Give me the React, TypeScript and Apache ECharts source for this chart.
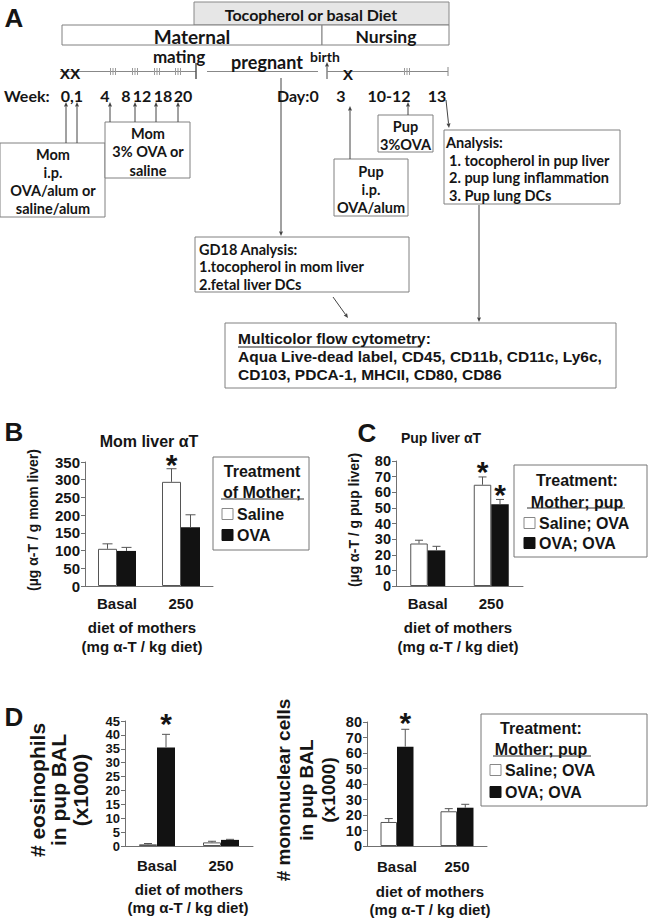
import React, { useEffect, useRef } from "react";
import * as echarts from "echarts";

// ---------- data ----------
const categories = ["Basal", "250"];

// Panel B: Mom liver alpha-T (ug / g)
const momSaline = [105, 294];
const momSalineErr = [14, 37];
const momSalineStar = [0, 1];
const momOva = [99, 166];
const momOvaErr = [10, 35];
const momOvaStar = [0, 0];

// Panel C: Pup liver alpha-T (ug / g)
const pupSaline = [27.2, 64.8];
const pupSalineErr = [2.1, 5];
const pupSalineStar = [0, 1];
const pupOva = [22.8, 52.4];
const pupOvaErr = [2.6, 3];
const pupOvaStar = [0, 1];

// Panel D left: eosinophils (x1000)
const eosSaline = [0.6, 1.3];
const eosSalineErr = [0.3, 0.4];
const eosSalineStar = [0, 0];
const eosOva = [35.5, 2.2];
const eosOvaErr = [4.7, 0.2];
const eosOvaStar = [1, 0];

// Panel D right: mononuclear cells (x1000)
const monoSaline = [15.5, 22.4];
const monoSalineErr = [2.2, 1.7];
const monoSalineStar = [0, 0];
const monoOva = [64.1, 24.7];
const monoOvaErr = [11.2, 2.2];
const monoOvaStar = [1, 0];

const ARIAL = "Liberation Sans, Arial, sans-serif";
const CAL = "Lato, Carlito, sans-serif";
const INK = "#151515";
const LINE = "#707070";

type PanelCfg = {
  grid: { left: number; top: number; width: number; height: number };
  max: number;
  interval: number;
  barWidth: number;
  cap: number;
  starGap: number;
  labelSize: number;
  xMargin: number;
  saline: number[];
  salineErr: number[];
  salineStar: number[];
  ova: number[];
  ovaErr: number[];
  ovaStar: number[];
};

const panels: PanelCfg[] = [
  {
    grid: { left: 85, top: 462, width: 128, height: 124 },
    max: 350, interval: 50, barWidth: 19, cap: 10, starGap: 4, labelSize: 15, xMargin: 10,
    saline: momSaline, salineErr: momSalineErr, salineStar: momSalineStar,
    ova: momOva, ovaErr: momOvaErr, ovaStar: momOvaStar,
  },
  {
    grid: { left: 396, top: 461, width: 127, height: 125 },
    max: 80, interval: 10, barWidth: 17.5, cap: 8, starGap: 5, labelSize: 14.5, xMargin: 10,
    saline: pupSaline, salineErr: pupSalineErr, salineStar: pupSalineStar,
    ova: pupOva, ovaErr: pupOvaErr, ovaStar: pupOvaStar,
  },
  {
    grid: { left: 125, top: 721, width: 128, height: 125 },
    max: 45, interval: 5, barWidth: 18, cap: 8, starGap: 11, labelSize: 13, xMargin: 12,
    saline: eosSaline, salineErr: eosSalineErr, salineStar: eosSalineStar,
    ova: eosOva, ovaErr: eosOvaErr, ovaStar: eosOvaStar,
  },
  {
    grid: { left: 367, top: 722, width: 120, height: 124 },
    max: 80, interval: 10, barWidth: 16.5, cap: 8, starGap: 7, labelSize: 14.5, xMargin: 13,
    saline: monoSaline, salineErr: monoSalineErr, salineStar: monoSalineStar,
    ova: monoOva, ovaErr: monoOvaErr, ovaStar: monoOvaStar,
  },
];

// ---------- graphic helpers (panel A diagram, legends, titles) ----------
function txt(x: number, y: number, text: string, o: any = {}) {
  return {
    type: "text",
    x,
    y,
    rotation: o.rotation || 0,
    z: 100,
    style: {
      text,
      fontSize: o.size || 14,
      fontWeight: o.weight || "bold",
      fontFamily: o.family || ARIAL,
      fill: o.color || INK,
      align: o.align || "center",
      verticalAlign: "middle",
    },
  };
}
function box(x: number, y: number, w: number, h: number, fill = "#fff", stroke = "#808080") {
  return { type: "rect", z: 50, shape: { x, y, width: w, height: h }, style: { fill, stroke, lineWidth: 1 } };
}
function ln(x1: number, y1: number, x2: number, y2: number, color = LINE, w = 1) {
  return { type: "line", z: 60, shape: { x1, y1, x2, y2 }, style: { stroke: color, lineWidth: w } };
}
function arrow(x1: number, y1: number, x2: number, y2: number, color = "#444") {
  const dx = x2 - x1, dy = y2 - y1;
  const L = Math.sqrt(dx * dx + dy * dy);
  const ux = dx / L, uy = dy / L;
  const hl = 4.5, hw = 2;
  const bx = x2 - ux * hl, by = y2 - uy * hl;
  return [
    ln(x1, y1, bx, by, color, 1),
    {
      type: "polygon",
      z: 60,
      shape: { points: [[x2, y2], [bx - uy * hw, by + ux * hw], [bx + uy * hw, by - ux * hw]] },
      style: { fill: color },
    },
  ];
}
function ticks3(x: number, y: number) {
  return [ln(x - 2.5, y - 3.5, x - 2.5, y + 3.5, "#999"), ln(x, y - 3.5, x, y + 3.5, "#999"), ln(x + 2.5, y - 3.5, x + 2.5, y + 3.5, "#999")];
}
function legend(x: number, y: number, w: number, h: number, l1: string, l2: string, ul: [number, number, number], items: { text: string; y: number }[], sqX: number, cx: number, l1y: number, l2y: number, size: number) {
  const els: any[] = [box(x, y, w, h, "#fff", "#777")];
  els.push(txt(cx, l1y, l1, { size }));
  els.push(txt(cx, l2y, l2, { size }));
  els.push(ln(ul[0], ul[2], ul[1], ul[2], "#333", 1.2));
  items.forEach((it, i) => {
    els.push({
      type: "rect",
      z: 101,
      shape: { x: sqX, y: it.y - 5.5, width: 11, height: 11 },
      style: { fill: i === 0 ? "#fff" : "#111", stroke: i === 0 ? "#888" : "#111", lineWidth: 1 },
    });
    els.push(txt(sqX + 15, it.y, it.text, { size, align: "left" }));
  });
  return els;
}

function buildGraphics() {
  const g: any[] = [];
  // ----- Panel A -----
  g.push(txt(14, 18, "A", { size: 26 }));
  g.push(box(194, 2, 255, 23, "#e6e6e6", "#888"));
  g.push(txt(311, 14, "Tocopherol or basal Diet", { size: 16, family: CAL }));
  g.push(box(62, 25, 260, 20));
  g.push(txt(192, 36, "Maternal", { size: 19, family: CAL }));
  g.push(box(322, 25, 127, 20));
  g.push(txt(386, 36, "Nursing", { size: 17.5, family: CAL }));
  g.push(txt(179, 56, "mating", { size: 17, family: CAL }));
  g.push(txt(267, 62, "pregnant", { size: 18, family: CAL }));
  g.push(txt(325, 56, "birth", { size: 14, family: CAL }));
  // timeline
  g.push(ln(60, 71.5, 196, 71.5, "#888"));
  g.push(ln(196, 63, 196, 79, "#555", 1.5));
  g.push(ln(207, 71.5, 318, 71.5, "#888"));
  g.push(...arrow(327, 79, 327, 62, "#444"));
  g.push(ln(327, 71.5, 448, 71.5, "#888"));
  g.push(ln(448, 67, 448, 76, "#888"));
  g.push(txt(70, 73, "XX", { size: 15.5 }));
  g.push(txt(348, 74, "X", { size: 15.5 }));
  [113, 135, 157, 178, 407].forEach((x) => g.push(...ticks3(x, 71.5)));
  // week / day labels
  const W = { size: 16, family: CAL };
  g.push(txt(4, 95, "Week:", { ...W, align: "left" }));
  g.push(txt(72, 95, "0,1", W));
  g.push(txt(105, 95, "4", W));
  g.push(txt(126, 95, "8", W));
  g.push(txt(142, 95, "12", W));
  g.push(txt(163, 95, "18", W));
  g.push(txt(183, 95, "20", W));
  g.push(txt(277, 95, "Day:0", { ...W, align: "left" }));
  g.push(txt(341, 95, "3", W));
  g.push(txt(389, 95, "10-12", W));
  g.push(txt(437, 95, "13", W));
  // arrows up to week labels
  g.push(...arrow(66, 143, 66, 102));
  g.push(...arrow(77, 143, 77, 102));
  [110, 135, 156, 178].forEach((x) => g.push(...arrow(x, 122, x, 102)));
  g.push(...arrow(350, 159, 350, 106));
  g.push(...arrow(408, 115, 408, 102));
  g.push(...arrow(446, 100, 449, 128));
  g.push(...arrow(281, 78, 281, 236));
  g.push(...arrow(333, 297, 348, 318));
  g.push(...arrow(479, 205, 479, 322));
  // boxes
  const B = { size: 14.5, family: CAL };
  g.push(box(0, 143, 105, 74));
  ["Mom", "i.p.", "OVA/alum or", "saline/alum"].forEach((t, i) => g.push(txt(53, 154 + i * 18, t, B)));
  g.push(box(105, 122, 85, 56));
  ["Mom", "3% OVA or", "saline"].forEach((t, i) => g.push(txt(148, 133 + i * 18.5, t, B)));
  g.push(box(334, 159, 74, 57));
  ["Pup", "i.p.", "OVA/alum"].forEach((t, i) => g.push(txt(371, 171 + i * 18, t, B)));
  g.push(box(378, 115, 55, 37));
  ["Pup", "3%OVA"].forEach((t, i) => g.push(txt(405.5, 126 + i * 18.5, t, B)));
  g.push(box(444, 130, 176, 74));
  g.push(txt(446, 142, "Analysis:", { ...B, align: "left" }));
  ["1. tocopherol in pup liver", "2. pup lung inflammation", "3. Pup lung DCs"].forEach((t, i) => g.push(txt(449, 160 + i * 17.5, t, { ...B, align: "left" })));
  g.push(box(195, 237, 214, 55));
  ["GD18 Analysis:", "1.tocopherol in mom liver", "2.fetal liver DCs"].forEach((t, i) => g.push(txt(199, 249 + i * 17.5, t, { ...B, align: "left" })));
  g.push(box(225, 323, 391, 65));
  g.push(txt(238, 338, "Multicolor flow cytometry:", { size: 15.5, align: "left" }));
  g.push(ln(238, 347, 421, 347, "#222", 1));
  g.push(txt(238, 356, "Aqua Live-dead label, CD45, CD11b, CD11c, Ly6c,", { size: 15.5, align: "left" }));
  g.push(txt(238, 374, "CD103, PDCA-1, MHCII, CD80, CD86", { size: 15.5, align: "left" }));

  // ----- Panel B -----
  g.push(txt(14, 432, "B", { size: 26 }));
  g.push(txt(149, 441, "Mom liver \u03b1T", { size: 16 }));
  g.push(txt(33, 520, "(\u00b5g \u03b1-T / g mom liver)", { size: 14, rotation: Math.PI / 2 }));
  g.push(txt(142, 627, "diet of mothers", { size: 15 }));
  g.push(txt(142, 646, "(mg \u03b1-T / kg diet)", { size: 15 }));
  g.push(...legend(213, 457, 96, 93, "Treatment", "of Mother;", [221, 304, 499], [{ text: "Saline", y: 514 }, { text: "OVA", y: 535 }], 222, 262, 471, 492, 16));

  // ----- Panel C -----
  g.push(txt(367, 433, "C", { size: 26 }));
  g.push(txt(441, 438, "Pup liver \u03b1T", { size: 14 }));
  g.push(txt(354, 520, "(\u00b5g \u03b1-T / g pup liver)", { size: 14, rotation: Math.PI / 2 }));
  g.push(txt(458, 627, "diet of mothers", { size: 15 }));
  g.push(txt(458, 646, "(mg \u03b1-T / kg diet)", { size: 15 }));
  g.push(...legend(514, 465, 133, 92, "Treatment:", "Mother; pup", [527, 625, 508], [{ text: "Saline; OVA", y: 523 }, { text: "OVA; OVA", y: 543 }], 524, 577, 480, 502, 16));

  // ----- Panel D -----
  g.push(txt(14, 717, "D", { size: 26 }));
  g.push(txt(37, 790, "# eosinophils", { size: 21, rotation: Math.PI / 2 }));
  g.push(txt(58, 790, "in pup BAL", { size: 21, rotation: Math.PI / 2 }));
  g.push(txt(80, 790, "(x1000)", { size: 21, rotation: Math.PI / 2 }));
  g.push(txt(189, 889, "diet of mothers", { size: 15 }));
  g.push(txt(188, 907, "(mg \u03b1-T / kg diet)", { size: 15 }));

  g.push(txt(283, 790, "# mononuclear cells", { size: 19, rotation: Math.PI / 2 }));
  g.push(txt(306, 790, "in pup BAL", { size: 19, rotation: Math.PI / 2 }));
  g.push(txt(328, 790, "(x1000)", { size: 19, rotation: Math.PI / 2 }));
  g.push(txt(430, 891, "diet of mothers", { size: 15 }));
  g.push(txt(430, 909, "(mg \u03b1-T / kg diet)", { size: 15 }));
  g.push(...legend(481, 714, 166, 92, "Treatment:", "Mother; pup", [493, 591, 756], [{ text: "Saline; OVA", y: 770 }, { text: "OVA; OVA", y: 792 }], 490, 541, 728, 749, 16));
  return g;
}

function buildOption() {
  const grid: any[] = [];
  const xAxis: any[] = [];
  const yAxis: any[] = [];
  const series: any[] = [];
  panels.forEach((p, i) => {
    grid.push({ ...p.grid, containLabel: false });
    xAxis.push({
      type: "category",
      gridIndex: i,
      data: categories,
      axisLine: { show: true, lineStyle: { color: LINE, width: 1 } },
      axisTick: { show: false },
      axisLabel: { fontSize: 15, fontWeight: "bold", fontFamily: ARIAL, color: INK, margin: p.xMargin },
      splitLine: { show: false },
    });
    yAxis.push({
      type: "value",
      gridIndex: i,
      min: 0,
      max: p.max,
      interval: p.interval,
      axisLine: { show: true, lineStyle: { color: LINE, width: 1 } },
      axisTick: { show: true, length: 4, lineStyle: { color: LINE } },
      axisLabel: {
        fontSize: p.labelSize,
        lineHeight: p.labelSize,
        fontWeight: "bold",
        fontFamily: ARIAL,
        color: INK,
        margin: 5,
        showMinLabel: true,
        showMaxLabel: true,
        hideOverlap: false,
      },
      splitLine: { show: false },
    });
    series.push({
      type: "bar",
      xAxisIndex: i,
      yAxisIndex: i,
      data: p.saline,
      barWidth: p.barWidth,
      barGap: "0%",
      itemStyle: { color: "#ffffff", borderColor: "#555", borderWidth: 1 },
      z: 2,
    });
    series.push({
      type: "bar",
      xAxisIndex: i,
      yAxisIndex: i,
      data: p.ova,
      barWidth: p.barWidth,
      barGap: "0%",
      itemStyle: { color: "#121212", borderColor: "#121212", borderWidth: 0 },
      z: 2,
    });
    const errData = [
      ...p.saline.map((v, k) => [k, v, p.salineErr[k], 0, p.salineStar[k]]),
      ...p.ova.map((v, k) => [k, v, p.ovaErr[k], 1, p.ovaStar[k]]),
    ];
    const bw = p.barWidth, cap = p.cap, gap = p.starGap;
    series.push({
      type: "custom",
      xAxisIndex: i,
      yAxisIndex: i,
      data: errData,
      encode: { x: 0, y: 1 },
      clip: false,
      z: 5,
      silent: true,
      renderItem: (params: any, api: any) => {
        const cat = api.value(0), val = api.value(1), err = api.value(2), slot = api.value(3), star = api.value(4);
        const base = api.coord([cat, val]);
        const top = api.coord([cat, val + err]);
        const x = base[0] + (slot === 0 ? -1 : 1) * (bw / 2);
        const children: any[] = [
          { type: "line", shape: { x1: x, y1: base[1], x2: x, y2: top[1] }, style: { stroke: "#555", lineWidth: 1 } },
          { type: "line", shape: { x1: x - cap / 2, y1: top[1], x2: x + cap / 2, y2: top[1] }, style: { stroke: "#555", lineWidth: 1 } },
        ];
        if (star) {
          children.push({
            type: "text",
            x,
            y: top[1] - gap,
            style: { text: "*", fontSize: 30, fontWeight: "bold", fontFamily: ARIAL, fill: INK, align: "center", verticalAlign: "middle" },
          });
        }
        return { type: "group", children };
      },
    });
  });
  return {
    animation: false,
    backgroundColor: "#ffffff",
    grid,
    xAxis,
    yAxis,
    series,
    graphic: { elements: buildGraphics() },
  };
}

export default function App() {
  const ref = useRef<HTMLDivElement>(null);
  useEffect(() => {
    document.body.style.margin = "0";
    if (!ref.current) return;
    const chart = echarts.init(ref.current, undefined, { renderer: "svg" });
    chart.setOption(buildOption() as any);
    return () => chart.dispose();
  }, []);
  return <div ref={ref} style={{ position: "absolute", left: 0, top: 0, width: 648, height: 920, background: "#fff" }} />;
}
